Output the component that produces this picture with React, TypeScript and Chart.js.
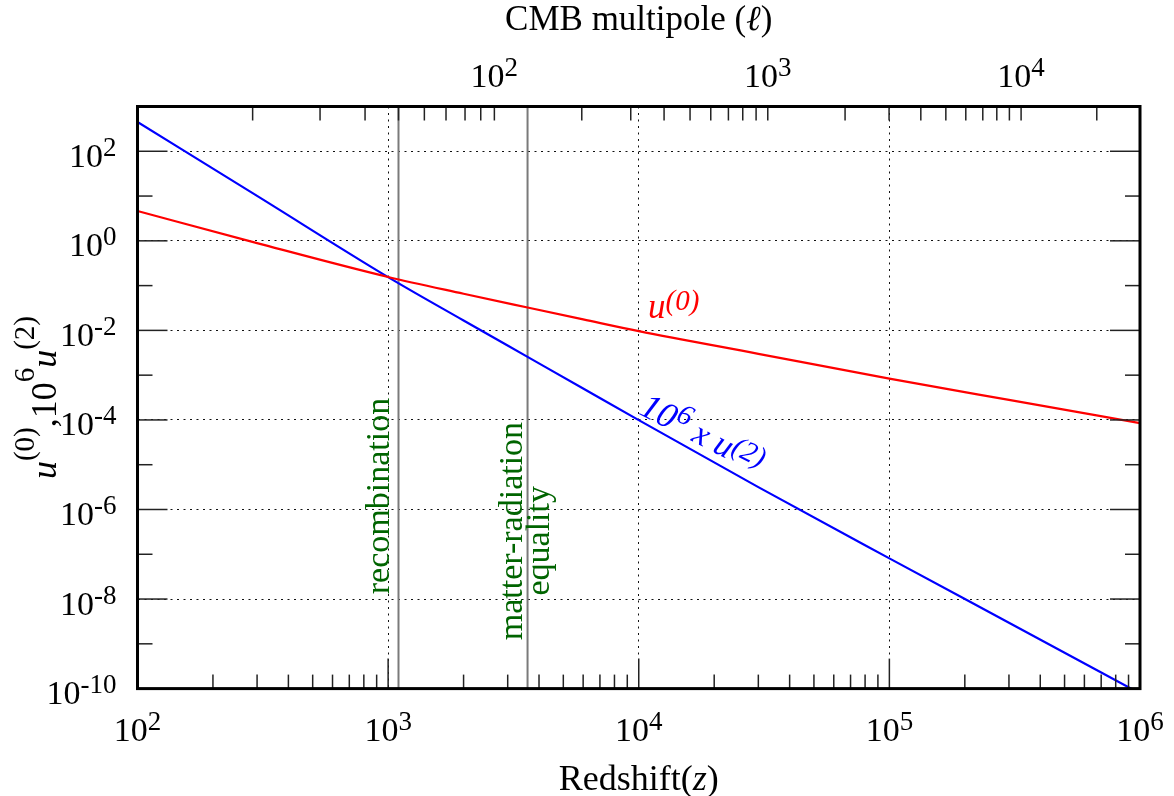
import React, { useEffect, useRef } from "react";
import { Chart, registerables } from "chart.js";

Chart.register(...registerables);

// ---------- data ----------
const redshift = [100, 300, 1000, 2000, 3600, 6000, 10000, 30000, 100000, 300000, 1000000];
const u0Values = [4.65, 0.89, 0.156, 0.0658, 0.0324, 0.0176, 0.0096, 0.003, 8.4e-4, 2.8e-4, 8.5e-5];
const u2Scaled = [451, 10.1, 0.155, 0.01665, 2.56e-3, 5.03e-4, 9.9e-5, 3.16e-6, 8.1e-8, 2.95e-9, 7.8e-11];

const zRecombination = 1100;
const zEquality = 3600;

// bottom axis (redshift)
const xDecades = [100, 1000, 10000, 100000, 1000000];
const xTickExponents = ["2", "3", "4", "5", "6"];
const xGridValues = [1000, 10000, 100000];
const xMinorMultipliers = [2, 3, 4, 5, 6, 7, 8, 9];

// left axis
const yLabelValues = [1e2, 1, 1e-2, 1e-4, 1e-6, 1e-8, 1e-10];
const yTickExponents = ["2", "0", "-2", "-4", "-6", "-8", "-10"];
const yGridValues = [1e2, 1, 1e-2, 1e-4, 1e-6, 1e-8];
const yMinorValues = [1e1, 1e-1, 1e-3, 1e-5, 1e-7, 1e-9];

// top axis (CMB multipole) : tick positions expressed in redshift
const multipoleTicks = [20, 30, 40, 50, 60, 70, 80, 90, 100, 200, 300, 400, 500, 600, 700, 800, 900, 1000, 2000, 3000, 4000, 5000, 6000, 7000, 8000, 9000, 10000, 20000];
const multipoleTickZ = [288, 535, 809, 1100, 1395, 1702, 2027, 2342, 2654, 5925, 9292, 12620, 16020, 19380, 22790, 26000, 29390, 32720, 66560, 99720, 133500, 168000, 201800, 235900, 268300, 301200, 335400, 672300];
const multipoleLabelValues = [100, 1000, 10000];
const multipoleLabelExponents = ["2", "3", "4"];

// annotation anchors (data coordinates)
const u0LabelAt = { z: 10890, v: 1.85e-2 };
const u2LabelAt = { z: 9900, v: 1.4e-4 };
const recombTextAt = { z: 1008, v: 2.0e-6 };
const matterTextAt = { z: 3420, v: 3.3e-7 };
const equalityTextAt = { z: 4385, v: 2.0e-7 };

// ---------- text helpers ----------
const FAMILY = '"Liberation Serif", "Times New Roman", "DejaVu Serif", serif';
const fnt = (size: number, italic = false) => `${italic ? "italic " : ""}${size}px ${FAMILY}`;

type Part = { t: string; size: number; italic?: boolean; rise?: number };

function partsWidth(ctx: CanvasRenderingContext2D, parts: Part[]) {
  let w = 0;
  for (const p of parts) {
    ctx.font = fnt(p.size, p.italic);
    w += ctx.measureText(p.t).width;
  }
  return w;
}

function drawParts(
  ctx: CanvasRenderingContext2D,
  parts: Part[],
  x: number,
  y: number,
  align: "left" | "center" | "right"
) {
  const w = partsWidth(ctx, parts);
  let cx = align === "center" ? x - w / 2 : align === "right" ? x - w : x;
  ctx.textAlign = "left";
  ctx.textBaseline = "alphabetic";
  for (const p of parts) {
    ctx.font = fnt(p.size, p.italic);
    ctx.fillText(p.t, cx, y - (p.rise || 0));
    cx += ctx.measureText(p.t).width;
  }
}

const powerLabel = (exp: string): Part[] => [
  { t: "10", size: 34 },
  { t: exp, size: 27, rise: 11 },
];

const overlay = {
  id: "overlay",
  beforeDatasetsDraw(chart: any) {
    const { ctx, chartArea: a, scales } = chart;
    const xs = scales.x;
    ctx.save();
    ctx.strokeStyle = "#7a7a7a";
    ctx.lineWidth = 2;
    for (const z of [zRecombination, zEquality]) {
      const px = xs.getPixelForValue(z);
      ctx.beginPath();
      ctx.moveTo(px, a.top);
      ctx.lineTo(px, a.bottom);
      ctx.stroke();
    }
    ctx.restore();
  },
  afterDraw(chart: any) {
    const { ctx, chartArea: a, scales } = chart;
    const xs = scales.x;
    const x2 = scales.x2;
    const ys = scales.y;
    ctx.save();

    // tick marks
    ctx.strokeStyle = "#222";
    ctx.lineWidth = 1.5;
    const vline = (px: number, y0: number, y1: number) => {
      ctx.beginPath();
      ctx.moveTo(px, y0);
      ctx.lineTo(px, y1);
      ctx.stroke();
    };
    const hline = (py: number, x0: number, x1: number) => {
      ctx.beginPath();
      ctx.moveTo(x0, py);
      ctx.lineTo(x1, py);
      ctx.stroke();
    };
    for (const d of xDecades) {
      const px = xs.getPixelForValue(d);
      if (px > a.left + 2 && px < a.right - 2) vline(px, a.bottom, a.bottom - 30);
      for (const m of xMinorMultipliers) {
        const z = d * m;
        if (z >= 1000000) continue;
        const pm = xs.getPixelForValue(z);
        vline(pm, a.bottom, a.bottom - 14);
      }
    }
    for (const v of yGridValues) {
      const py = ys.getPixelForValue(v);
      hline(py, a.left, a.left + 30);
      hline(py, a.right, a.right - 30);
    }
    for (const v of yMinorValues) {
      const py = ys.getPixelForValue(v);
      hline(py, a.left, a.left + 15);
      hline(py, a.right, a.right - 15);
    }
    for (const z of multipoleTickZ) {
      const px = x2.getPixelForValue(z);
      vline(px, a.top, a.top + 14);
    }

    // frame
    ctx.strokeStyle = "#000";
    ctx.lineWidth = 3;
    ctx.strokeRect(a.left, a.top, a.right - a.left, a.bottom - a.top);

    // tick labels
    ctx.fillStyle = "#000";
    xDecades.forEach((d, i) => {
      drawParts(ctx, powerLabel(xTickExponents[i]), xs.getPixelForValue(d), a.bottom + 52, "center");
    });
    yLabelValues.forEach((v, i) => {
      drawParts(ctx, powerLabel(yTickExponents[i]), a.left - 21, ys.getPixelForValue(v) + 15.5, "right");
    });
    multipoleLabelValues.forEach((l, i) => {
      const z = multipoleTickZ[multipoleTicks.indexOf(l)];
      drawParts(ctx, powerLabel(multipoleLabelExponents[i]), x2.getPixelForValue(z), a.top - 20, "center");
    });

    // axis titles
    const cxm = (a.left + a.right) / 2;
    drawParts(
      ctx,
      [
        { t: "Redshift(", size: 36 },
        { t: "z", size: 36, italic: true },
        { t: ")", size: 36 },
      ],
      cxm,
      790,
      "center"
    );
    drawParts(
      ctx,
      [
        { t: "CMB multipole (", size: 35 },
        { t: "ℓ", size: 35, italic: true },
        { t: ")", size: 35 },
      ],
      cxm,
      30,
      "center"
    );
    ctx.save();
    ctx.translate(56, (a.top + a.bottom) / 2);
    ctx.rotate(-Math.PI / 2);
    drawParts(
      ctx,
      [
        { t: "u", size: 36, italic: true },
        { t: "(0)", size: 29, rise: 22 },
        { t: ",", size: 36 },
        { t: "10", size: 36 },
        { t: "6", size: 29, rise: 22 },
        { t: "u", size: 36, italic: true },
        { t: "(2)", size: 29, rise: 22 },
      ],
      0,
      0,
      "center"
    );
    ctx.restore();

    // curve labels
    ctx.fillStyle = "#ff0000";
    drawParts(
      ctx,
      [
        { t: "u", size: 35, italic: true },
        { t: "(0)", size: 29, italic: true, rise: 8 },
      ],
      xs.getPixelForValue(u0LabelAt.z),
      ys.getPixelForValue(u0LabelAt.v),
      "left"
    );
    ctx.fillStyle = "#0000ff";
    ctx.save();
    ctx.translate(xs.getPixelForValue(u2LabelAt.z), ys.getPixelForValue(u2LabelAt.v));
    ctx.rotate((27 * Math.PI) / 180);
    drawParts(
      ctx,
      [
        { t: "10", size: 36, italic: true },
        { t: "6", size: 29, italic: true, rise: 11 },
        { t: " x ", size: 34, italic: true },
        { t: "u", size: 35, italic: true },
        { t: "(2)", size: 29, italic: true, rise: 7 },
      ],
      0,
      0,
      "left"
    );
    ctx.restore();

    // event annotations
    ctx.fillStyle = "#006400";
    const vtext = (text: string, z: number, v: number) => {
      ctx.save();
      ctx.translate(xs.getPixelForValue(z), ys.getPixelForValue(v));
      ctx.rotate(-Math.PI / 2);
      drawParts(ctx, [{ t: text, size: 34 }], 0, 0, "center");
      ctx.restore();
    };
    vtext("recombination", recombTextAt.z, recombTextAt.v);
    vtext("matter-radiation", matterTextAt.z, matterTextAt.v);
    vtext("equality", equalityTextAt.z, equalityTextAt.v);

    ctx.restore();
  },
};

export default function App() {
  const ref = useRef<HTMLCanvasElement | null>(null);
  useEffect(() => {
    if (!ref.current) return;
    const chart = new Chart(ref.current, {
      type: "line",
      data: {
        datasets: [
          {
            label: "u(0)",
            data: redshift.map((z, i) => ({ x: z, y: u0Values[i] })),
            borderColor: "#ff0000",
            borderWidth: 2.2,
            pointRadius: 0,
            cubicInterpolationMode: "monotone",
            xAxisID: "x",
            yAxisID: "y",
          },
          {
            label: "1e6 x u(2)",
            data: redshift.map((z, i) => ({ x: z, y: u2Scaled[i] })),
            borderColor: "#0000ff",
            borderWidth: 2.2,
            pointRadius: 0,
            cubicInterpolationMode: "monotone",
            xAxisID: "x",
            yAxisID: "y",
          },
        ],
      },
      options: {
        animation: false,
        responsive: false,
        maintainAspectRatio: false,
        layout: { padding: { left: 137.5, right: 34, top: 106.5, bottom: 107.4 } },
        plugins: { legend: { display: false }, tooltip: { enabled: false } },
        scales: {
          x: {
            type: "logarithmic",
            position: "bottom",
            min: 100,
            max: 1000000,
            ticks: { display: false },
            grid: { color: "#111", lineWidth: 1, drawTicks: false },
            border: { display: false, dash: [2, 4.5] },
            afterBuildTicks: (s: any) => {
              s.ticks = xGridValues.map((v) => ({ value: v }));
            },
            afterFit: (s: any) => {
              s.height = 0;
            },
          },
          x2: {
            type: "logarithmic",
            position: "top",
            min: 100,
            max: 1000000,
            ticks: { display: false },
            grid: { display: false, drawTicks: false },
            border: { display: false },
            afterFit: (s: any) => {
              s.height = 0;
            },
          },
          y: {
            type: "logarithmic",
            position: "left",
            min: 1e-10,
            max: 1e3,
            ticks: { display: false },
            grid: { color: "#111", lineWidth: 1, drawTicks: false },
            border: { display: false, dash: [2, 4.5] },
            afterBuildTicks: (s: any) => {
              s.ticks = yGridValues.map((v) => ({ value: v }));
            },
            afterFit: (s: any) => {
              s.width = 0;
            },
          },
        },
      } as any,
      plugins: [overlay],
    });
    return () => chart.destroy();
  }, []);
  return (
    <div style={{ position: "fixed", left: 0, top: 0, width: 1174, height: 796, background: "#fff" }}>
      <canvas ref={ref} width={1174} height={796} style={{ width: 1174, height: 796, display: "block" }} />
    </div>
  );
}
